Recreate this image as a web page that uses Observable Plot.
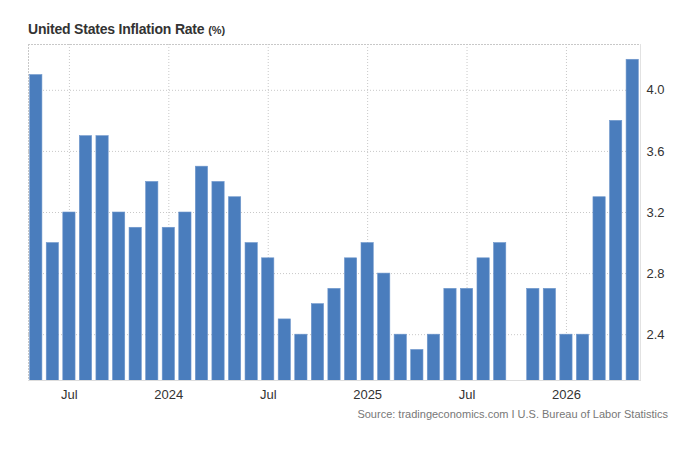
<!DOCTYPE html>
<html>
<head>
<meta charset="utf-8">
<script src="https://cdn.jsdelivr.net/npm/d3@7"></script>
<script src="https://cdn.jsdelivr.net/npm/@observablehq/plot@0.6"></script>
<style>
  body { margin: 0; background: #fff; font-family: "Liberation Sans", Arial, sans-serif; }
  #wrap { position: relative; width: 680px; height: 465px; }
  #title { position: absolute; left: 28px; top: 21px; font-size: 14px; letter-spacing: -0.2px; font-weight: bold; color: #333; white-space: nowrap; }
  #title small { font-size: 11px; font-weight: bold; letter-spacing: 0; }
  #source { position: absolute; right: 12px; top: 408px; font-size: 11px; color: #777; white-space: nowrap; }
  #chart { position: absolute; left: 0; top: 0; }
</style>
</head>
<body>
<div id="wrap">
  <div id="chart"></div>
  <div id="title">United States Inflation Rate <small>(%)</small></div>
  <div id="source">Source: tradingeconomics.com I U.S. Bureau of Labor Statistics</div>
</div>
<script>
const months = [
  "2023-05","2023-06","2023-07","2023-08","2023-09","2023-10","2023-11","2023-12",
  "2024-01","2024-02","2024-03","2024-04","2024-05","2024-06","2024-07","2024-08","2024-09","2024-10","2024-11","2024-12",
  "2025-01","2025-02","2025-03","2025-04","2025-05","2025-06","2025-07","2025-08","2025-09","2025-10","2025-11","2025-12",
  "2026-01","2026-02","2026-03","2026-04","2026-05"
];
const inflation = [
  4.1,3.0,3.2,3.7,3.7,3.2,3.1,3.4,
  3.1,3.2,3.5,3.4,3.3,3.0,2.9,2.5,2.4,2.6,2.7,2.9,
  3.0,2.8,2.4,2.3,2.4,2.7,2.7,2.9,3.0,null,2.7,2.7,
  2.4,2.4,3.3,3.8,4.2
];
const xTicks = ["2023-07","2024-01","2024-07","2025-01","2025-07","2026-01"];
const yTicks = [2.4, 2.8, 3.2, 3.6, 4.0];
const yDomain = [2.1, 4.3];

const data = months.map((m, i) => ({month: m, value: inflation[i]})).filter(d => d.value != null);
const fmtX = m => m.endsWith("-01") ? m.slice(0, 4) : "Jul";

const chart = Plot.plot({
  width: 680,
  height: 430,
  marginTop: 44,
  marginBottom: 50,
  marginLeft: 28,
  marginRight: 40,
  style: {fontFamily: "Liberation Sans, Arial, sans-serif", fontSize: "13px", color: "#333", background: "transparent"},
  x: {type: "band", domain: months, paddingInner: 0.26, paddingOuter: 0.1, round: false, axis: null, label: null},
  y: {domain: yDomain, axis: null, label: null},
  marks: [
    Plot.gridY(yTicks, {stroke: "#c8c8c8", strokeOpacity: 1, strokeDasharray: "1,2"}),
    Plot.gridX(xTicks, {stroke: "#c8c8c8", strokeOpacity: 1, strokeDasharray: "1,2"}),
    Plot.frame({anchor: "top", stroke: "#c8c8c8", strokeDasharray: "1,2"}),
    Plot.frame({anchor: "left", stroke: "#c8c8c8", strokeDasharray: "1,2"}),
    Plot.frame({anchor: "right", stroke: "#e2e2e2"}),
    Plot.barY(data, {x: "month", y: "value", fill: "#4a7dbd", stroke: "#6f97cc", strokeWidth: 0.6, clip: true}),
    Plot.frame({anchor: "bottom", stroke: "#ddd"}),
    Plot.axisX(xTicks, {tickSize: 0, tickPadding: 9, tickFormat: fmtX, fontSize: 13, fill: "#333", label: null}),
    Plot.axisY(yTicks, {anchor: "right", tickSize: 0, tickPadding: 6, tickFormat: d3.format(".1f"), fontSize: 13, fill: "#333", label: null})
  ]
});
document.getElementById("chart").appendChild(chart);
</script>
</body>
</html>
